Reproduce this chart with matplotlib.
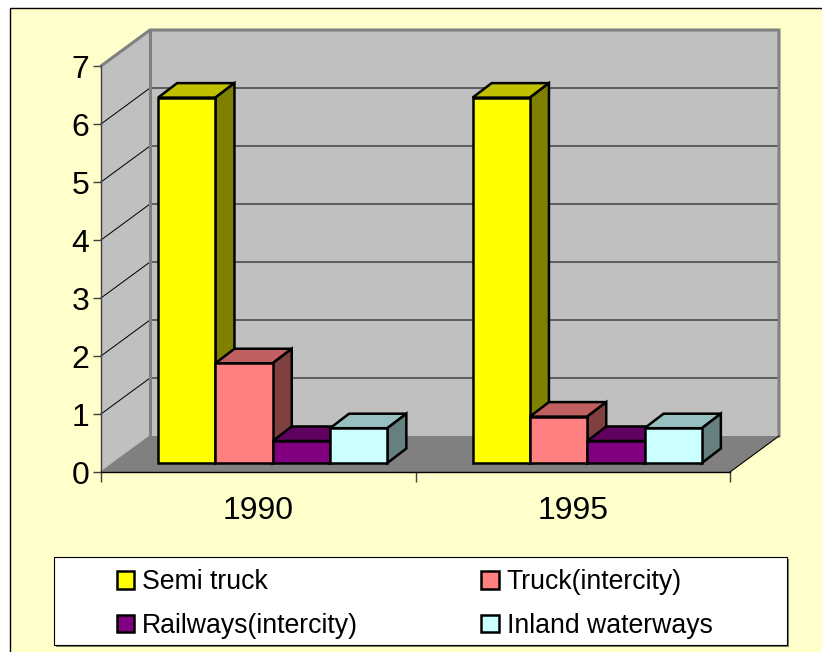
import matplotlib
matplotlib.use('Agg')
import matplotlib.pyplot as plt
from matplotlib.patches import Patch, Polygon, Rectangle

plt.rcParams['font.family'] = ['Liberation Sans', 'DejaVu Sans']

# data
years = ['1990', '1995']
series = ['Semi truck', 'Truck(intercity)', 'Railways(intercity)', 'Inland waterways']
semi_truck = [6.3, 6.3]
truck_intercity = [1.72, 0.8]
railways_intercity = [0.38, 0.38]
inland_waterways = [0.6, 0.6]
values = [semi_truck, truck_intercity, railways_intercity, inland_waterways]

front_colors = ['#FFFF00', '#FF8080', '#800080', '#CCFFFF']
top_colors = ['#C0C000', '#C06060', '#600060', '#99C0C0']
side_colors = ['#808000', '#804040', '#400040', '#668080']

W, H = 822, 652
fig = plt.figure(figsize=(W / 100, H / 100), dpi=100, facecolor='white')

# cream chart area
fig.add_artist(Rectangle((10 / W, -0.01), 0.99, 1 - 8 / H + 0.01, transform=fig.transFigure,
                         facecolor='#FFFFCC', edgecolor='black', linewidth=1, zorder=-2))

# front plane of the 3d box
ax = fig.add_axes([101 / W, (H - 472) / H, 629 / W, 406 / H])
ax.set_xlim(0, 2)
ax.set_ylim(0, 7)
ax.patch.set_visible(False)

# px to data units
ux = 2 / 629
uy = 7 / 406
wall_dx, wall_dy = 49 * ux, 36 * uy
base_dx, base_dy = 14.5 * ux, 9 * uy
bar_dx, bar_dy = 19 * ux, 14.5 * uy
bar_w = 57.3 * ux


def face(pts, fc, ec='none', lw=0.0, z=1):
    ax.add_patch(Polygon(pts, closed=True, facecolor=fc, edgecolor=ec, linewidth=lw,
                         joinstyle='miter', clip_on=False, zorder=z))


# walls and floor
face([(0, 0), (wall_dx, wall_dy), (wall_dx, 7 + wall_dy), (0, 7)], '#C0C0C0')
face([(wall_dx, wall_dy), (2 + wall_dx, wall_dy), (2 + wall_dx, 7 + wall_dy), (wall_dx, 7 + wall_dy)], '#C0C0C0')
face([(0, 0), (2, 0), (2 + wall_dx, wall_dy), (wall_dx, wall_dy)], '#808080')

# gridlines
for k in range(1, 7):
    ax.plot([0, wall_dx, 2 + wall_dx], [k, k + wall_dy, k + wall_dy], color='black', lw=0.72,
            clip_on=False, zorder=2)

# wall borders
ax.plot([0, wall_dx, 2 + wall_dx, 2 + wall_dx], [7, 7 + wall_dy, 7 + wall_dy, wall_dy],
        color='#808080', lw=2.2, clip_on=False, zorder=2, solid_joinstyle='miter')
ax.plot([wall_dx, wall_dx], [wall_dy, 7 + wall_dy], color='#808080', lw=2.2, clip_on=False, zorder=2)
ax.plot([0, wall_dx], [0, wall_dy], color='#808080', lw=1, clip_on=False, zorder=2)
ax.plot([2, 2 + wall_dx], [0, wall_dy], color='black', lw=0.8, clip_on=False, zorder=2)

# bars
z = 3
for i in range(len(years)):
    start = i + 0.5 + base_dx - 2 * bar_w
    for j in range(len(series)):
        x0 = start + j * bar_w
        x1 = x0 + bar_w
        v = values[j][i] + base_dy
        ax.bar(x0, values[j][i], width=bar_w, bottom=base_dy, align='edge', color=front_colors[j],
               edgecolor='black', linewidth=1.8, clip_on=False, zorder=z + 0.5)
        face([(x0, v), (x1, v), (x1 + bar_dx, v + bar_dy), (x0 + bar_dx, v + bar_dy)],
             top_colors[j], 'black', 1.8, z)
        face([(x1, base_dy), (x1 + bar_dx, base_dy + bar_dy), (x1 + bar_dx, v + bar_dy), (x1, v)],
             side_colors[j], 'black', 1.8, z)
        z += 1

# axes
for s in ['top', 'right']:
    ax.spines[s].set_visible(False)
ax.spines['left'].set_color('#404040')
ax.spines['bottom'].set_color('black')
ax.spines['left'].set_zorder(2)
ax.spines['bottom'].set_zorder(2)
ax.spines['left'].set_linewidth(1)
ax.spines['bottom'].set_linewidth(1)
ax.set_yticks(range(8))
ax.set_xticks([0, 1, 2])
ax.set_xticklabels([])
ax.set_xticks([0.5, 1.5], years, minor=True)
ax.tick_params(axis='x', which='minor', length=0, labelsize=23, pad=17)
ax.tick_params(axis='x', which='major', length=7, width=1, color='#404040')
ax.tick_params(axis='y', length=6, width=1, color='#404040', labelsize=23, pad=2.6)

# legend box
fig.add_artist(Rectangle((56 / W, (H - 647) / H), 733 / W, 88 / H, transform=fig.transFigure,
                         facecolor='#808060', edgecolor='none', zorder=-1.5))
fig.add_artist(Rectangle((54 / W, (H - 645) / H), 733 / W, 88 / H, transform=fig.transFigure,
                         facecolor='white', edgecolor='black', linewidth=0.8, zorder=-1))
handles = [Patch(facecolor=c, edgecolor='black', linewidth=1.8) for c in front_colors]
order = [0, 2, 1, 3]
fig.legend([handles[k] for k in order], [series[k] for k in order], ncol=2, loc='upper left',
           bbox_to_anchor=(117 / W, (H - 569) / H), frameon=False, fontsize=19.2, handlelength=0.65,
           handleheight=0.65, handletextpad=0.3, columnspacing=4.61, labelspacing=0.67,
           borderpad=0, borderaxespad=0)

fig.savefig('out.png', dpi=100)
